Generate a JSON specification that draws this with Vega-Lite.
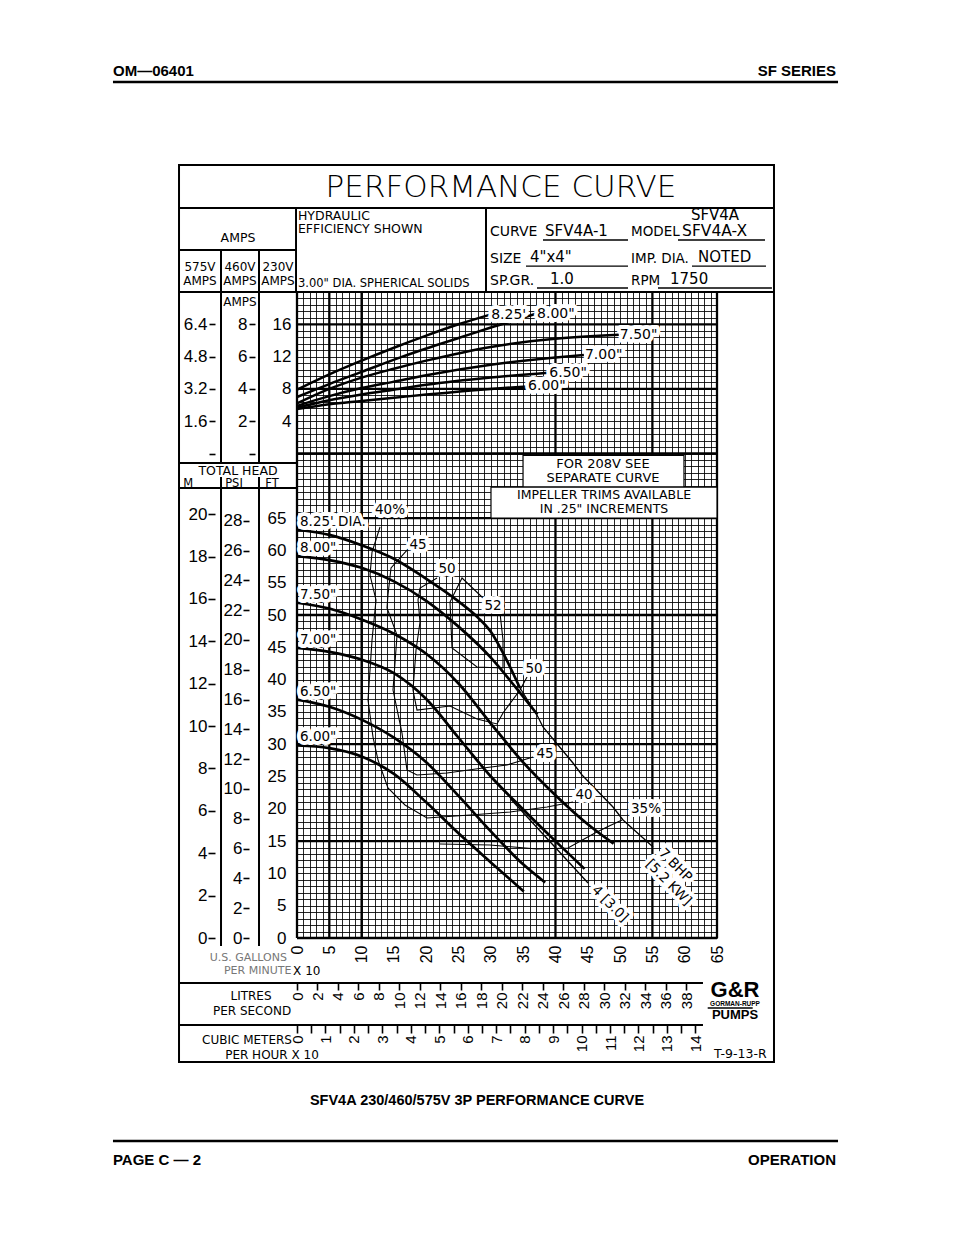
{
"$schema": "https://vega.github.io/schema/vega-lite/v6.json",
"width": 420, "height": 646,
"autosize": {"type": "none"},
"padding": {"left": 297, "top": 292, "right": 237, "bottom": 297},
"background": "#ffffff",
"data": {"values": [{}]},
"config": {
  "view": {"stroke": null},
  "text": {"font": "DejaVu Sans", "color": "#000"},
  "rule": {"color": "#000"},
  "line": {"color": "#000"},
  "axis": {"labelFont": "Liberation Sans", "labelColor": "#000", "tickColor": "#000", "labelFontSize": 17}
},
"datasets": {
  "hx": [{"g":0},{"g":5},{"g":10},{"g":40},{"g":55},{"g":65}],
  "hy": [{"u":0},{"u":15},{"u":30},{"u":50},{"u":65},{"u":75},{"u":85},{"u":95}],
  "head": [
    {"dia":"8.25","lab":"8.25' DIA.","g":0,"ft":63.2},{"dia":"8.25","lab":"8.25' DIA.","g":5,"ft":62.4},{"dia":"8.25","lab":"8.25' DIA.","g":10,"ft":60.8},{"dia":"8.25","lab":"8.25' DIA.","g":15,"ft":58.7},{"dia":"8.25","lab":"8.25' DIA.","g":20,"ft":55.6},{"dia":"8.25","lab":"8.25' DIA.","g":25,"ft":52.1},{"dia":"8.25","lab":"8.25' DIA.","g":28,"ft":49.6},{"dia":"8.25","lab":"8.25' DIA.","g":30,"ft":47.4},{"dia":"8.25","lab":"8.25' DIA.","g":32,"ft":43.9},{"dia":"8.25","lab":"8.25' DIA.","g":34.5,"ft":38.7},
    {"dia":"8.00","lab":"8.00\"","g":0,"ft":59.1},{"dia":"8.00","lab":"8.00\"","g":5,"ft":58.5},{"dia":"8.00","lab":"8.00\"","g":10,"ft":57.3},{"dia":"8.00","lab":"8.00\"","g":15,"ft":55.2},{"dia":"8.00","lab":"8.00\"","g":20,"ft":52.2},{"dia":"8.00","lab":"8.00\"","g":25,"ft":48.2},{"dia":"8.00","lab":"8.00\"","g":30,"ft":43.4},{"dia":"8.00","lab":"8.00\"","g":34,"ft":38.6},{"dia":"8.00","lab":"8.00\"","g":37.2,"ft":34.6},
    {"dia":"7.50","lab":"7.50\"","g":0,"ft":51.9},{"dia":"7.50","lab":"7.50\"","g":5,"ft":51.0},{"dia":"7.50","lab":"7.50\"","g":10,"ft":49.3},{"dia":"7.50","lab":"7.50\"","g":15,"ft":47.1},{"dia":"7.50","lab":"7.50\"","g":20,"ft":44.0},{"dia":"7.50","lab":"7.50\"","g":25,"ft":39.4},{"dia":"7.50","lab":"7.50\"","g":30,"ft":33.2},{"dia":"7.50","lab":"7.50\"","g":35,"ft":27.2},{"dia":"7.50","lab":"7.50\"","g":40,"ft":22.1},{"dia":"7.50","lab":"7.50\"","g":45,"ft":17.6},{"dia":"7.50","lab":"7.50\"","g":49,"ft":14.6},
    {"dia":"7.00","lab":"7.00\"","g":0,"ft":44.9},{"dia":"7.00","lab":"7.00\"","g":5,"ft":44.3},{"dia":"7.00","lab":"7.00\"","g":10,"ft":43.1},{"dia":"7.00","lab":"7.00\"","g":15,"ft":41.0},{"dia":"7.00","lab":"7.00\"","g":20,"ft":37.0},{"dia":"7.00","lab":"7.00\"","g":25,"ft":31.0},{"dia":"7.00","lab":"7.00\"","g":30,"ft":25.0},{"dia":"7.00","lab":"7.00\"","g":35,"ft":19.9},{"dia":"7.00","lab":"7.00\"","g":40,"ft":15.0},{"dia":"7.00","lab":"7.00\"","g":44.5,"ft":10.7},
    {"dia":"6.50","lab":"6.50\"","g":0,"ft":36.9},{"dia":"6.50","lab":"6.50\"","g":5,"ft":35.8},{"dia":"6.50","lab":"6.50\"","g":10,"ft":33.8},{"dia":"6.50","lab":"6.50\"","g":15,"ft":31.0},{"dia":"6.50","lab":"6.50\"","g":20,"ft":27.2},{"dia":"6.50","lab":"6.50\"","g":25,"ft":22.0},{"dia":"6.50","lab":"6.50\"","g":30,"ft":16.5},{"dia":"6.50","lab":"6.50\"","g":35,"ft":11.4},{"dia":"6.50","lab":"6.50\"","g":38.4,"ft":8.6},
    {"dia":"6.00","lab":"6.00\"","g":0,"ft":29.8},{"dia":"6.00","lab":"6.00\"","g":5,"ft":29.4},{"dia":"6.00","lab":"6.00\"","g":10,"ft":28.1},{"dia":"6.00","lab":"6.00\"","g":15,"ft":25.4},{"dia":"6.00","lab":"6.00\"","g":20,"ft":21.0},{"dia":"6.00","lab":"6.00\"","g":25,"ft":16.2},{"dia":"6.00","lab":"6.00\"","g":30,"ft":11.7},{"dia":"6.00","lab":"6.00\"","g":35.1,"ft":7.2}
  ],
  "amps": [
    {"dia":"8.25","lab":"8.25'","g":0,"a":7.9},{"dia":"8.25","lab":"8.25'","g":5,"a":9.8},{"dia":"8.25","lab":"8.25'","g":10,"a":11.5},{"dia":"8.25","lab":"8.25'","g":15,"a":13.1},{"dia":"8.25","lab":"8.25'","g":20,"a":14.6},{"dia":"8.25","lab":"8.25'","g":25,"a":16.0},{"dia":"8.25","lab":"8.25'","g":29.9,"a":17.2},
    {"dia":"8.00","lab":"8.00\"","g":0,"a":7.0},{"dia":"8.00","lab":"8.00\"","g":5,"a":8.6},{"dia":"8.00","lab":"8.00\"","g":10,"a":10.1},{"dia":"8.00","lab":"8.00\"","g":16,"a":11.9},{"dia":"8.00","lab":"8.00\"","g":20,"a":13.0},{"dia":"8.00","lab":"8.00\"","g":25,"a":14.3},{"dia":"8.00","lab":"8.00\"","g":30,"a":15.6},{"dia":"8.00","lab":"8.00\"","g":37,"a":17.3},
    {"dia":"7.50","lab":"7.50\"","g":0,"a":6.2},{"dia":"7.50","lab":"7.50\"","g":5,"a":8.0},{"dia":"7.50","lab":"7.50\"","g":10,"a":9.4},{"dia":"7.50","lab":"7.50\"","g":15,"a":10.5},{"dia":"7.50","lab":"7.50\"","g":20,"a":11.5},{"dia":"7.50","lab":"7.50\"","g":30,"a":13.2},{"dia":"7.50","lab":"7.50\"","g":40,"a":14.2},{"dia":"7.50","lab":"7.50\"","g":49.8,"a":14.7},
    {"dia":"7.00","lab":"7.00\"","g":0,"a":5.9},{"dia":"7.00","lab":"7.00\"","g":5,"a":7.1},{"dia":"7.00","lab":"7.00\"","g":10,"a":8.1},{"dia":"7.00","lab":"7.00\"","g":15,"a":8.9},{"dia":"7.00","lab":"7.00\"","g":20,"a":9.7},{"dia":"7.00","lab":"7.00\"","g":30,"a":11.0},{"dia":"7.00","lab":"7.00\"","g":40,"a":11.9},{"dia":"7.00","lab":"7.00\"","g":44.4,"a":12.2},
    {"dia":"6.50","lab":"6.50\"","g":0,"a":5.7},{"dia":"6.50","lab":"6.50\"","g":5,"a":6.6},{"dia":"6.50","lab":"6.50\"","g":10,"a":7.3},{"dia":"6.50","lab":"6.50\"","g":15,"a":7.9},{"dia":"6.50","lab":"6.50\"","g":20,"a":8.5},{"dia":"6.50","lab":"6.50\"","g":30,"a":9.4},{"dia":"6.50","lab":"6.50\"","g":38.9,"a":10.0},
    {"dia":"6.00","lab":"6.00\"","g":0,"a":5.5},{"dia":"6.00","lab":"6.00\"","g":5,"a":6.1},{"dia":"6.00","lab":"6.00\"","g":10,"a":6.5},{"dia":"6.00","lab":"6.00\"","g":15,"a":6.9},{"dia":"6.00","lab":"6.00\"","g":20,"a":7.3},{"dia":"6.00","lab":"6.00\"","g":30,"a":8.0},{"dia":"6.00","lab":"6.00\"","g":35.6,"a":8.3}
  ],
  "eff": [
    {"c":"40","i":0,"g":12.85,"ft":63.62},{"c":"40","i":1,"g":11.61,"ft":59.75},{"c":"40","i":2,"g":11.30,"ft":56.19},{"c":"40","i":3,"g":12.23,"ft":52.32},{"c":"40","i":4,"g":11.61,"ft":46.13},{"c":"40","i":5,"g":10.99,"ft":36.84},{"c":"40","i":6,"g":11.76,"ft":31.11},{"c":"40","i":7,"g":12.54,"ft":27.55},{"c":"40","i":8,"g":14.08,"ft":23.22},{"c":"40","i":9,"g":16.71,"ft":20.59},{"c":"40","i":10,"g":20.12,"ft":18.58},{"c":"40","i":11,"g":26.78,"ft":19.04},{"c":"40","i":12,"g":32.96,"ft":19.50},{"c":"40","i":13,"g":38.69,"ft":20.28},{"c":"40","i":14,"g":42.71,"ft":21.05},
    {"c":"45","i":0,"g":17.49,"ft":60.53},{"c":"45","i":1,"g":14.55,"ft":57.28},{"c":"45","i":2,"g":14.08,"ft":53.10},{"c":"45","i":3,"g":13.93,"ft":51.08},{"c":"45","i":4,"g":15.48,"ft":46.90},{"c":"45","i":5,"g":14.86,"ft":38.39},{"c":"45","i":6,"g":16.25,"ft":31.73},{"c":"45","i":7,"g":17.02,"ft":26.01},{"c":"45","i":8,"g":18.57,"ft":25.23},{"c":"45","i":9,"g":23.21,"ft":25.54},{"c":"45","i":10,"g":28.79,"ft":26.32},{"c":"45","i":11,"g":32.50,"ft":26.78},{"c":"45","i":12,"g":36.52,"ft":28.02},
    {"c":"50","i":0,"g":21.67,"ft":55.73},{"c":"50","i":1,"g":19.04,"ft":54.18},{"c":"50","i":2,"g":18.73,"ft":52.32},{"c":"50","i":3,"g":19.04,"ft":48.92},{"c":"50","i":4,"g":18.42,"ft":44.58},{"c":"50","i":5,"g":17.95,"ft":38.39},{"c":"50","i":6,"g":18.57,"ft":35.29},{"c":"50","i":7,"g":23.68,"ft":35.91},{"c":"50","i":8,"g":27.86,"ft":33.90},{"c":"50","i":9,"g":30.95,"ft":33.13},{"c":"50","i":10,"g":31.88,"ft":34.83},{"c":"50","i":11,"g":34.51,"ft":38.39},{"c":"50","i":12,"g":35.60,"ft":40.40},
    {"c":"52","i":0,"g":28.79,"ft":52.63},{"c":"52","i":1,"g":25.54,"ft":55.73},{"c":"52","i":2,"g":24.76,"ft":54.18},{"c":"52","i":3,"g":23.68,"ft":52.01},{"c":"52","i":4,"g":23.99,"ft":44.89},{"c":"52","i":5,"g":27.86,"ft":41.95},{"c":"52","i":6,"g":31.88,"ft":41.80},{"c":"52","i":7,"g":31.88,"ft":46.13},{"c":"52","i":8,"g":31.42,"ft":50.31},
    {"c":"35","i":0,"g":22.13,"ft":14.55},{"c":"35","i":1,"g":29.87,"ft":14.40},{"c":"35","i":2,"g":37.14,"ft":13.78},{"c":"35","i":3,"g":41.94,"ft":13.93},{"c":"35","i":4,"g":46.12,"ft":16.25},{"c":"35","i":5,"g":47.98,"ft":17.18},{"c":"35","i":6,"g":50.30,"ft":18.27}
  ],
  "bhp": [
    {"c":"7","i":0,"g":34.51,"ft":38.70},{"c":"7","i":1,"g":37.14,"ft":34.52},{"c":"7","i":2,"g":38.07,"ft":32.66},{"c":"7","i":3,"g":42.71,"ft":27.09},{"c":"7","i":4,"g":44.11,"ft":25.23},{"c":"7","i":5,"g":48.90,"ft":20.28},{"c":"7","i":6,"g":50.46,"ft":18.27},{"c":"7","i":7,"g":55.11,"ft":14.09},
    {"c":"4","i":0,"g":33.0,"ft":21.6},{"c":"4","i":1,"g":45.04,"ft":8.51}
  ],
  "effLab": [
    {"t":"40%","g":14.39,"ft":66.25},{"t":"45","g":18.73,"ft":60.84},{"t":"50","g":23.21,"ft":57.12},{"t":"52","g":30.33,"ft":51.39},
    {"t":"50","g":36.68,"ft":41.64},{"t":"45","g":38.38,"ft":28.48},{"t":"40","g":44.42,"ft":22.14},{"t":"35%","g":54.01,"ft":19.97}
  ],
  "bhpLab": [
    {"t":"7 BHP","g":56.33,"ft":13.47},{"t":"[5.2 KW]","g":54.32,"ft":11.76},{"t":"4 [3.0]","g":45.96,"ft":7.74}
  ]
},
"resolve": {"scale": {"x": "independent", "y": "independent"}, "axis": {"x": "independent", "y": "independent"}},
"layer": [
  {
    "resolve": {"axis": {"x": "independent", "y": "independent"}},
    "layer": [
      {"mark": {"type": "rect", "filled": false, "color": "#000", "strokeWidth": 2}, "encoding": {"x": {"datum": -18.26, "axis": null}, "x2": {"datum": 73.82}, "y": {"datum": 119.66, "axis": null}, "y2": {"datum": -19.2}}},
      {"mark": {"type": "rule", "strokeWidth": 2}, "encoding": {"x": {"datum": -18.26, "axis": null}, "x2": {"datum": 73.82}, "y": {"datum": 113.0, "axis": null}}},
      {"mark": {"type": "rule", "strokeWidth": 2.2}, "encoding": {"x": {"datum": -18.26, "axis": null}, "x2": {"datum": 73.82}, "y": {"datum": 100.0, "axis": null}}},
      {"mark": {"type": "rule", "strokeWidth": 2}, "encoding": {"x": {"datum": -18.26, "axis": null}, "x2": {"datum": -0.15}, "y": {"datum": 106.5, "axis": null}}},
      {"mark": {"type": "rule", "strokeWidth": 2}, "encoding": {"x": {"datum": -18.26, "axis": null}, "x2": {"datum": 0}, "y": {"datum": 73.53, "axis": null}}},
      {"mark": {"type": "rule", "strokeWidth": 2}, "encoding": {"x": {"datum": -18.26, "axis": null}, "x2": {"datum": 0}, "y": {"datum": 69.66, "axis": null}}},
      {"mark": {"type": "rule", "strokeWidth": 2}, "encoding": {"x": {"datum": -18.26, "axis": null}, "x2": {"datum": 62.83}, "y": {"datum": -6.97, "axis": null}}},
      {"mark": {"type": "rule", "strokeWidth": 2}, "encoding": {"x": {"datum": -18.26, "axis": null}, "x2": {"datum": 62.83}, "y": {"datum": -13.47, "axis": null}}},
      {"mark": {"type": "rule", "strokeWidth": 2}, "encoding": {"x": {"datum": -0.15, "axis": null}, "y": {"datum": 113.0, "axis": null}, "y2": {"datum": 100.0}}},
      {"mark": {"type": "rule", "strokeWidth": 2}, "encoding": {"x": {"datum": 29.25, "axis": null}, "y": {"datum": 113.0, "axis": null}, "y2": {"datum": 100.0}}},
      {"mark": {"type": "rule", "strokeWidth": 2}, "encoding": {"x": {"datum": -11.76, "axis": null}, "y": {"datum": 106.5, "axis": null}, "y2": {"datum": 73.53}}},
      {"mark": {"type": "rule", "strokeWidth": 2}, "encoding": {"x": {"datum": -5.88, "axis": null}, "y": {"datum": 106.5, "axis": null}, "y2": {"datum": 73.53}}},
      {"mark": {"type": "rule", "strokeWidth": 2}, "encoding": {"x": {"datum": -11.76, "axis": null}, "y": {"datum": 71.36, "axis": null}, "y2": {"datum": -1.24}}},
      {"mark": {"type": "rule", "strokeWidth": 2}, "encoding": {"x": {"datum": -5.88, "axis": null}, "y": {"datum": 71.36, "axis": null}, "y2": {"datum": -1.24}}},
      {"mark": {"type": "rule", "strokeWidth": 1.3}, "encoding": {"x": {"datum": 38.07, "axis": null}, "x2": {"datum": 51.23}, "y": {"datum": 108.05, "axis": null}}},
      {"mark": {"type": "rule", "strokeWidth": 1.3}, "encoding": {"x": {"datum": 58.96, "axis": null}, "x2": {"datum": 72.43}, "y": {"datum": 108.05, "axis": null}}},
      {"mark": {"type": "rule", "strokeWidth": 1.3}, "encoding": {"x": {"datum": 35.44, "axis": null}, "x2": {"datum": 51.23}, "y": {"datum": 104.02, "axis": null}}},
      {"mark": {"type": "rule", "strokeWidth": 1.3}, "encoding": {"x": {"datum": 61.13, "axis": null}, "x2": {"datum": 72.58}, "y": {"datum": 104.02, "axis": null}}},
      {"mark": {"type": "rule", "strokeWidth": 1.3}, "encoding": {"x": {"datum": 37.14, "axis": null}, "x2": {"datum": 51.23}, "y": {"datum": 100.62, "axis": null}}},
      {"mark": {"type": "rule", "strokeWidth": 1.3}, "encoding": {"x": {"datum": 55.87, "axis": null}, "x2": {"datum": 73.5}, "y": {"datum": 100.62, "axis": null}}},
      {"mark": {"type": "rule", "strokeWidth": 2.5}, "encoding": {"x": {"datum": -28.48, "axis": null}, "x2": {"datum": 83.73}, "y": {"datum": 132.51, "axis": null}}},
      {"mark": {"type": "rule", "strokeWidth": 2.5}, "encoding": {"x": {"datum": -28.48, "axis": null}, "x2": {"datum": 83.73}, "y": {"datum": -31.42, "axis": null}}},
      {"mark": {"type": "rule", "strokeWidth": 1.5}, "encoding": {"x": {"datum": 63.56, "axis": null}, "x2": {"datum": 70.52}, "y": {"datum": -10.84, "axis": null}}},
      {"data": {"name": "hx"}, "mark": {"type": "rule", "strokeWidth": 2.3}, "encoding": {"x": {"field": "g", "type": "quantitative", "axis": null}, "y": {"datum": 0, "axis": null}, "y2": {"datum": 100}}},
      {"data": {"name": "hy"}, "mark": {"type": "rule", "strokeWidth": 2.3}, "encoding": {"y": {"field": "u", "type": "quantitative", "axis": null}, "x": {"datum": 0, "axis": null}, "x2": {"datum": 65}}},
      {"mark": {"type": "rect", "fill": "#fff", "stroke": "#000", "strokeWidth": 1.2}, "encoding": {"x": {"datum": 34.98, "axis": null}, "x2": {"datum": 59.89}, "y": {"datum": 74.7, "axis": null}, "y2": {"datum": 69.8}}},
      {"mark": {"type": "rect", "fill": "#fff", "stroke": "#000", "strokeWidth": 1.2}, "encoding": {"x": {"datum": 30.02, "axis": null}, "x2": {"datum": 65}, "y": {"datum": 69.8, "axis": null}, "y2": {"datum": 65.0}}},
      {"mark": {"type": "text", "align": "center", "baseline": "middle", "fontSize": 13}, "encoding": {"x": {"datum": 47.36, "axis": null}, "y": {"datum": 73.37, "axis": null}, "text": {"value": "FOR  208V  SEE"}}},
      {"mark": {"type": "text", "align": "center", "baseline": "middle", "fontSize": 13}, "encoding": {"x": {"datum": 47.36, "axis": null}, "y": {"datum": 71.2, "axis": null}, "text": {"value": "SEPARATE  CURVE"}}},
      {"mark": {"type": "text", "align": "center", "baseline": "middle", "fontSize": 12.5}, "encoding": {"x": {"datum": 47.51, "axis": null}, "y": {"datum": 68.58, "axis": null}, "text": {"value": "IMPELLER  TRIMS  AVAILABLE"}}},
      {"mark": {"type": "text", "align": "center", "baseline": "middle", "fontSize": 12.5}, "encoding": {"x": {"datum": 47.51, "axis": null}, "y": {"datum": 66.41, "axis": null}, "text": {"value": "IN  .25\"  INCREMENTS"}}},
      {"data": {"name": "eff"}, "mark": {"type": "line", "strokeWidth": 1.1}, "encoding": {"x": {"field": "g", "type": "quantitative", "axis": null}, "y": {"field": "ft", "type": "quantitative", "axis": null}, "detail": {"field": "c"}, "order": {"field": "i"}}},
      {"data": {"name": "bhp"}, "mark": {"type": "line", "strokeWidth": 1.3}, "encoding": {"x": {"field": "g", "type": "quantitative", "axis": null}, "y": {"field": "ft", "type": "quantitative", "axis": null}, "detail": {"field": "c"}, "order": {"field": "i"}}},
      {"data": {"name": "head"}, "mark": {"type": "line", "strokeWidth": 2.7, "interpolate": "monotone"},
       "encoding": {
         "x": {"field": "g", "type": "quantitative", "scale": {"domain": [0, 65], "nice": false, "zero": false},
               "axis": {"orient": "bottom", "values": [0,1,2,3,4,5,6,7,8,9,10,11,12,13,14,15,16,17,18,19,20,21,22,23,24,25,26,27,28,29,30,31,32,33,34,35,36,37,38,39,40,41,42,43,44,45,46,47,48,49,50,51,52,53,54,55,56,57,58,59,60,61,62,63,64,65],
                        "grid": true, "gridColor": "#000", "gridWidth": 0.85, "gridOpacity": 1, "ticks": false, "domain": false,
                        "labelExpr": "datum.value % 5 === 0 ? datum.label : ''", "labelAngle": -90, "labelPadding": 7, "labelFontSize": 16,
                        "labelOverlap": false, "labelBound": false, "labelFlush": false, "title": null}},
         "y": {"field": "ft", "type": "quantitative", "scale": {"domain": [0, 100], "nice": false, "zero": false},
               "axis": {"orient": "left", "values": [0,1,2,3,4,5,6,7,8,9,10,11,12,13,14,15,16,17,18,19,20,21,22,23,24,25,26,27,28,29,30,31,32,33,34,35,36,37,38,39,40,41,42,43,44,45,46,47,48,49,50,51,52,53,54,55,56,57,58,59,60,61,62,63,64,65,66,67,68,69,70,71,72,73,74,75,76,77,78,79,80,81,82,83,84,85,86,87,88,89,90,91,92,93,94,95,96,97,98,99,100],
                        "grid": true, "gridColor": "#000", "gridWidth": 0.85, "gridOpacity": 1, "ticks": false, "domain": false,
                        "labelExpr": "datum.value % 5 === 0 && datum.value <= 65 ? datum.label : ''", "labelPadding": 11, "labelFontSize": 17,
                        "labelOverlap": false, "labelBound": false, "labelFlush": false, "title": null}},
         "detail": {"field": "dia"}
       }},
      {"data": {"name": "head"}, "transform": [{"filter": "datum.g === 0"}], "mark": {"type": "text", "align": "left", "baseline": "bottom", "dx": 3, "dy": -1, "fontSize": 13.5, "stroke": "#fff", "strokeWidth": 8, "strokeJoin": "round"}, "encoding": {"x": {"field": "g", "type": "quantitative", "axis": null}, "y": {"field": "ft", "type": "quantitative", "axis": null}, "text": {"field": "lab"}}},
      {"data": {"name": "head"}, "transform": [{"filter": "datum.g === 0"}], "mark": {"type": "text", "align": "left", "baseline": "bottom", "dx": 3, "dy": -1, "fontSize": 13.5}, "encoding": {"x": {"field": "g", "type": "quantitative", "axis": null}, "y": {"field": "ft", "type": "quantitative", "axis": null}, "text": {"field": "lab"}}},
      {"data": {"name": "effLab"}, "mark": {"type": "text", "align": "center", "baseline": "middle", "fontSize": 13.5, "stroke": "#fff", "strokeWidth": 8, "strokeJoin": "round"}, "encoding": {"x": {"field": "g", "type": "quantitative", "axis": null}, "y": {"field": "ft", "type": "quantitative", "axis": null}, "text": {"field": "t"}}},
      {"data": {"name": "effLab"}, "mark": {"type": "text", "align": "center", "baseline": "middle", "fontSize": 13.5}, "encoding": {"x": {"field": "g", "type": "quantitative", "axis": null}, "y": {"field": "ft", "type": "quantitative", "axis": null}, "text": {"field": "t"}}},
      {"data": {"name": "bhpLab"}, "mark": {"type": "text", "align": "left", "baseline": "middle", "angle": 45, "fontSize": 13.5, "stroke": "#fff", "strokeWidth": 8, "strokeJoin": "round"}, "encoding": {"x": {"field": "g", "type": "quantitative", "axis": null}, "y": {"field": "ft", "type": "quantitative", "axis": null}, "text": {"field": "t"}}},
      {"data": {"name": "bhpLab"}, "mark": {"type": "text", "align": "left", "baseline": "middle", "angle": 45, "fontSize": 13.5}, "encoding": {"x": {"field": "g", "type": "quantitative", "axis": null}, "y": {"field": "ft", "type": "quantitative", "axis": null}, "text": {"field": "t"}}},
      {"mark": {"type": "text", "align": "center", "baseline": "middle", "fontSize": 31, "fontWeight": 200}, "encoding": {"x": {"datum": 31.57, "axis": null}, "y": {"datum": 116.1, "axis": null}, "text": {"value": "PERFORMANCE  CURVE"}}},
      {"mark": {"type": "text", "align": "left", "baseline": "middle", "fontSize": 12.5}, "encoding": {"x": {"datum": 0.15, "axis": null}, "y": {"datum": 111.76, "axis": null}, "text": {"value": "HYDRAULIC"}}},
      {"mark": {"type": "text", "align": "left", "baseline": "middle", "fontSize": 12.5}, "encoding": {"x": {"datum": 0.15, "axis": null}, "y": {"datum": 109.75, "axis": null}, "text": {"value": "EFFICIENCY  SHOWN"}}},
      {"mark": {"type": "text", "align": "left", "baseline": "middle", "fontSize": 11.5}, "encoding": {"x": {"datum": 0.15, "axis": null}, "y": {"datum": 101.24, "axis": null}, "text": {"value": "3.00\" DIA. SPHERICAL  SOLIDS"}}},
      {"mark": {"type": "text", "align": "center", "baseline": "middle", "fontSize": 12.5}, "encoding": {"x": {"datum": -9.13, "axis": null}, "y": {"datum": 108.36, "axis": null}, "text": {"value": "AMPS"}}},
      {"mark": {"type": "text", "align": "center", "baseline": "middle", "fontSize": 12}, "encoding": {"x": {"datum": -15.01, "axis": null}, "y": {"datum": 103.87, "axis": null}, "text": {"value": "575V"}}},
      {"mark": {"type": "text", "align": "center", "baseline": "middle", "fontSize": 12}, "encoding": {"x": {"datum": -15.01, "axis": null}, "y": {"datum": 101.7, "axis": null}, "text": {"value": "AMPS"}}},
      {"mark": {"type": "text", "align": "center", "baseline": "middle", "fontSize": 12}, "encoding": {"x": {"datum": -8.82, "axis": null}, "y": {"datum": 103.87, "axis": null}, "text": {"value": "460V"}}},
      {"mark": {"type": "text", "align": "center", "baseline": "middle", "fontSize": 12}, "encoding": {"x": {"datum": -8.82, "axis": null}, "y": {"datum": 101.7, "axis": null}, "text": {"value": "AMPS"}}},
      {"mark": {"type": "text", "align": "center", "baseline": "middle", "fontSize": 12}, "encoding": {"x": {"datum": -2.94, "axis": null}, "y": {"datum": 103.87, "axis": null}, "text": {"value": "230V"}}},
      {"mark": {"type": "text", "align": "center", "baseline": "middle", "fontSize": 12}, "encoding": {"x": {"datum": -2.94, "axis": null}, "y": {"datum": 101.7, "axis": null}, "text": {"value": "AMPS"}}},
      {"mark": {"type": "text", "align": "center", "baseline": "middle", "fontSize": 12}, "encoding": {"x": {"datum": -8.82, "axis": null}, "y": {"datum": 98.45, "axis": null}, "text": {"value": "AMPS"}}},
      {"mark": {"type": "text", "align": "center", "baseline": "middle", "fontSize": 15}, "encoding": {"x": {"datum": 64.69, "axis": null}, "y": {"datum": 111.92, "axis": null}, "text": {"value": "SFV4A"}}},
      {"mark": {"type": "text", "align": "left", "baseline": "middle", "fontSize": 14}, "encoding": {"x": {"datum": 29.87, "axis": null}, "y": {"datum": 109.29, "axis": null}, "text": {"value": "CURVE"}}},
      {"mark": {"type": "text", "align": "left", "baseline": "middle", "fontSize": 15}, "encoding": {"x": {"datum": 38.38, "axis": null}, "y": {"datum": 109.44, "axis": null}, "text": {"value": "SFV4A-1"}}},
      {"mark": {"type": "text", "align": "left", "baseline": "middle", "fontSize": 13.5}, "encoding": {"x": {"datum": 51.69, "axis": null}, "y": {"datum": 109.29, "axis": null}, "text": {"value": "MODEL"}}},
      {"mark": {"type": "text", "align": "left", "baseline": "middle", "fontSize": 15.5}, "encoding": {"x": {"datum": 59.6, "axis": null}, "y": {"datum": 109.44, "axis": null}, "text": {"value": "SFV4A-X"}}},
      {"mark": {"type": "text", "align": "left", "baseline": "middle", "fontSize": 14}, "encoding": {"x": {"datum": 29.87, "axis": null}, "y": {"datum": 105.11, "axis": null}, "text": {"value": "SIZE"}}},
      {"mark": {"type": "text", "align": "left", "baseline": "middle", "fontSize": 15}, "encoding": {"x": {"datum": 36.06, "axis": null}, "y": {"datum": 105.42, "axis": null}, "text": {"value": "4\"x4\""}}},
      {"mark": {"type": "text", "align": "left", "baseline": "middle", "fontSize": 13.5}, "encoding": {"x": {"datum": 51.69, "axis": null}, "y": {"datum": 105.11, "axis": null}, "text": {"value": "IMP. DIA."}}},
      {"mark": {"type": "text", "align": "left", "baseline": "middle", "fontSize": 15}, "encoding": {"x": {"datum": 62.06, "axis": null}, "y": {"datum": 105.42, "axis": null}, "text": {"value": "NOTED"}}},
      {"mark": {"type": "text", "align": "left", "baseline": "middle", "fontSize": 14}, "encoding": {"x": {"datum": 29.87, "axis": null}, "y": {"datum": 101.7, "axis": null}, "text": {"value": "SP.GR."}}},
      {"mark": {"type": "text", "align": "left", "baseline": "middle", "fontSize": 15}, "encoding": {"x": {"datum": 39.15, "axis": null}, "y": {"datum": 102.01, "axis": null}, "text": {"value": "1.0"}}},
      {"mark": {"type": "text", "align": "left", "baseline": "middle", "fontSize": 13.5}, "encoding": {"x": {"datum": 51.69, "axis": null}, "y": {"datum": 101.7, "axis": null}, "text": {"value": "RPM"}}},
      {"mark": {"type": "text", "align": "left", "baseline": "middle", "fontSize": 15}, "encoding": {"x": {"datum": 57.73, "axis": null}, "y": {"datum": 102.01, "axis": null}, "text": {"value": "1750"}}},
      {"mark": {"type": "text", "align": "center", "baseline": "middle", "fontSize": 12.5}, "encoding": {"x": {"datum": -9.13, "axis": null}, "y": {"datum": 72.29, "axis": null}, "text": {"value": "TOTAL  HEAD"}}},
      {"mark": {"type": "text", "align": "left", "baseline": "middle", "fontSize": 11.5}, "encoding": {"x": {"datum": -17.6, "axis": null}, "y": {"datum": 70.28, "axis": null}, "text": {"value": "M"}}},
      {"mark": {"type": "text", "align": "center", "baseline": "middle", "fontSize": 11.5}, "encoding": {"x": {"datum": -9.75, "axis": null}, "y": {"datum": 70.28, "axis": null}, "text": {"value": "PSI"}}},
      {"mark": {"type": "text", "align": "center", "baseline": "middle", "fontSize": 11.5}, "encoding": {"x": {"datum": -3.87, "axis": null}, "y": {"datum": 70.28, "axis": null}, "text": {"value": "FT"}}},
      {"mark": {"type": "text", "align": "right", "baseline": "middle", "fontSize": 11, "color": "#777"}, "encoding": {"x": {"datum": -1.55, "axis": null}, "y": {"datum": -3.1, "axis": null}, "text": {"value": "U.S. GALLONS"}}},
      {"mark": {"type": "text", "align": "left", "baseline": "middle", "fontSize": 11, "color": "#777"}, "encoding": {"x": {"datum": -11.3, "axis": null}, "y": {"datum": -5.11, "axis": null}, "text": {"value": "PER MINUTE"}}},
      {"mark": {"type": "text", "align": "left", "baseline": "middle", "fontSize": 12}, "encoding": {"x": {"datum": -0.6, "axis": null}, "y": {"datum": -5.11, "axis": null}, "text": {"value": "X 10"}}},
      {"mark": {"type": "text", "align": "center", "baseline": "middle", "fontSize": 12}, "encoding": {"x": {"datum": -7.12, "axis": null}, "y": {"datum": -8.98, "axis": null}, "text": {"value": "LITRES"}}},
      {"mark": {"type": "text", "align": "center", "baseline": "middle", "fontSize": 12}, "encoding": {"x": {"datum": -6.96, "axis": null}, "y": {"datum": -11.3, "axis": null}, "text": {"value": "PER  SECOND"}}},
      {"mark": {"type": "text", "align": "center", "baseline": "middle", "fontSize": 12}, "encoding": {"x": {"datum": -7.74, "axis": null}, "y": {"datum": -15.79, "axis": null}, "text": {"value": "CUBIC  METERS"}}},
      {"mark": {"type": "text", "align": "center", "baseline": "middle", "fontSize": 12}, "encoding": {"x": {"datum": -3.87, "axis": null}, "y": {"datum": -18.1, "axis": null}, "text": {"value": "PER  HOUR  X 10"}}},
      {"mark": {"type": "text", "align": "center", "baseline": "middle", "fontSize": 22, "fontWeight": "bold", "font": "Liberation Sans"}, "encoding": {"x": {"datum": 67.79, "axis": null}, "y": {"datum": -8.05, "axis": null}, "text": {"value": "G&R"}}},
      {"mark": {"type": "text", "align": "center", "baseline": "middle", "fontSize": 6.5, "fontWeight": "bold", "font": "Liberation Sans"}, "encoding": {"x": {"datum": 67.79, "axis": null}, "y": {"datum": -10.22, "axis": null}, "text": {"value": "GORMAN-RUPP"}}},
      {"mark": {"type": "text", "align": "center", "baseline": "middle", "fontSize": 13, "fontWeight": "bold", "font": "Liberation Sans"}, "encoding": {"x": {"datum": 67.79, "axis": null}, "y": {"datum": -11.92, "axis": null}, "text": {"value": "PUMPS"}}},
      {"mark": {"type": "text", "align": "left", "baseline": "middle", "fontSize": 12.5}, "encoding": {"x": {"datum": 64.54, "axis": null}, "y": {"datum": -17.96, "axis": null}, "text": {"value": "T-9-13-R"}}},
      {"mark": {"type": "text", "align": "left", "baseline": "middle", "fontSize": 15, "fontWeight": "bold", "font": "Liberation Sans"}, "encoding": {"x": {"datum": -28.48, "axis": null}, "y": {"datum": 134.21, "axis": null}, "text": {"value": "OM—06401"}}},
      {"mark": {"type": "text", "align": "right", "baseline": "middle", "fontSize": 15, "fontWeight": "bold", "font": "Liberation Sans"}, "encoding": {"x": {"datum": 83.42, "axis": null}, "y": {"datum": 134.21, "axis": null}, "text": {"value": "SF SERIES"}}},
      {"mark": {"type": "text", "align": "center", "baseline": "middle", "fontSize": 14.5, "fontWeight": "bold", "font": "Liberation Sans"}, "encoding": {"x": {"datum": 27.86, "axis": null}, "y": {"datum": -25.23, "axis": null}, "text": {"value": "SFV4A 230/460/575V 3P PERFORMANCE CURVE"}}},
      {"mark": {"type": "text", "align": "left", "baseline": "middle", "fontSize": 15, "fontWeight": "bold", "font": "Liberation Sans"}, "encoding": {"x": {"datum": -28.48, "axis": null}, "y": {"datum": -34.37, "axis": null}, "text": {"value": "PAGE C — 2"}}},
      {"mark": {"type": "text", "align": "right", "baseline": "middle", "fontSize": 15, "fontWeight": "bold", "font": "Liberation Sans"}, "encoding": {"x": {"datum": 83.42, "axis": null}, "y": {"datum": -34.37, "axis": null}, "text": {"value": "OPERATION"}}}
    ]
  },
  {
    "resolve": {"axis": {"x": "independent", "y": "independent"}},
    "layer": [
      {"data": {"name": "amps"}, "mark": {"type": "line", "strokeWidth": 2.5, "interpolate": "monotone"},
       "encoding": {
         "x": {"field": "g", "type": "quantitative", "scale": {"domain": [0, 65], "nice": false, "zero": false}, "axis": null},
         "y": {"field": "a", "type": "quantitative", "scale": {"domain": [-60, 20], "nice": false, "zero": false},
               "axis": {"orient": "left", "values": [4, 8, 12, 16], "ticks": false, "domain": false, "grid": false, "labelPadding": 6, "labelFontSize": 17, "labelOverlap": false, "labelBound": false, "title": null}},
         "detail": {"field": "dia"}
       }},
      {"data": {"name": "amps"}, "transform": [{"joinaggregate": [{"op": "max", "field": "g", "as": "gmax"}], "groupby": ["dia"]}, {"filter": "datum.g === datum.gmax"}],
       "mark": {"type": "text", "align": "left", "baseline": "middle", "dx": 1, "fontSize": 14, "stroke": "#fff", "strokeWidth": 8, "strokeJoin": "round"},
       "encoding": {"x": {"field": "g", "type": "quantitative", "axis": null}, "y": {"field": "a", "type": "quantitative", "axis": null}, "text": {"field": "lab"}}},
      {"data": {"name": "amps"}, "transform": [{"joinaggregate": [{"op": "max", "field": "g", "as": "gmax"}], "groupby": ["dia"]}, {"filter": "datum.g === datum.gmax"}],
       "mark": {"type": "text", "align": "left", "baseline": "middle", "dx": 1, "fontSize": 14},
       "encoding": {"x": {"field": "g", "type": "quantitative", "axis": null}, "y": {"field": "a", "type": "quantitative", "axis": null}, "text": {"field": "lab"}}}
    ]
  },
  {"mark": {"type": "point", "opacity": 0},
   "encoding": {
     "x": {"datum": 0, "type": "quantitative", "scale": {"domain": [0, 65], "nice": false}, "axis": null},
     "y": {"datum": 0, "type": "quantitative", "scale": {"domain": [-24, 8], "nice": false, "zero": false},
           "axis": {"orient": "left", "offset": 82, "values": [0, 1.6, 3.2, 4.8, 6.4], "labelExpr": "datum.value === 0 ? '' : format(datum.value, '.1f')", "tickSize": 6, "tickWidth": 1.6, "domain": false, "grid": false, "labelPadding": 2, "labelOverlap": false, "labelBound": false, "title": null}}}},
  {"mark": {"type": "point", "opacity": 0},
   "encoding": {
     "x": {"datum": 0, "type": "quantitative", "scale": {"domain": [0, 65], "nice": false}, "axis": null},
     "y": {"datum": 0, "type": "quantitative", "scale": {"domain": [-30, 10], "nice": false, "zero": false},
           "axis": {"orient": "left", "offset": 42, "values": [0, 2, 4, 6, 8], "labelExpr": "datum.value === 0 ? '' : datum.label", "tickSize": 6, "tickWidth": 1.6, "domain": false, "grid": false, "labelPadding": 2, "labelOverlap": false, "labelBound": false, "title": null}}}},
  {"mark": {"type": "point", "opacity": 0},
   "encoding": {
     "x": {"datum": 0, "type": "quantitative", "scale": {"domain": [0, 65], "nice": false}, "axis": null},
     "y": {"datum": 0, "type": "quantitative", "scale": {"domain": [0, 30.48], "nice": false, "zero": false},
           "axis": {"orient": "left", "offset": 82, "values": [0, 2, 4, 6, 8, 10, 12, 14, 16, 18, 20], "tickSize": 7, "tickWidth": 1.6, "domain": false, "grid": false, "labelPadding": 1, "labelOverlap": false, "labelBound": false, "title": null}}}},
  {"mark": {"type": "point", "opacity": 0},
   "encoding": {
     "x": {"datum": 0, "type": "quantitative", "scale": {"domain": [0, 65], "nice": false}, "axis": null},
     "y": {"datum": 0, "type": "quantitative", "scale": {"domain": [0, 43.35], "nice": false, "zero": false},
           "axis": {"orient": "left", "offset": 48, "values": [0, 2, 4, 6, 8, 10, 12, 14, 16, 18, 20, 22, 24, 26, 28], "tickSize": 6, "tickWidth": 1.6, "domain": false, "grid": false, "labelPadding": 1, "labelOverlap": false, "labelBound": false, "title": null}}}},
  {"mark": {"type": "point", "opacity": 0},
   "encoding": {
     "y": {"datum": 0, "type": "quantitative", "scale": {"domain": [0, 100], "nice": false}, "axis": null},
     "x": {"datum": 0, "type": "quantitative", "scale": {"domain": [0, 41.01], "nice": false, "zero": false},
           "axis": {"orient": "bottom", "offset": 45, "values": [0, 2, 4, 6, 8, 10, 12, 14, 16, 18, 20, 22, 24, 26, 28, 30, 32, 34, 36, 38], "tickSize": 7, "tickWidth": 1.6, "domain": false, "grid": false, "labelAngle": -90, "labelPadding": 2, "labelFontSize": 15, "labelOverlap": false, "labelBound": false, "labelFlush": false, "title": null}}}},
  {"mark": {"type": "point", "opacity": 0},
   "encoding": {
     "y": {"datum": 0, "type": "quantitative", "scale": {"domain": [0, 100], "nice": false}, "axis": null},
     "x": {"datum": 0, "type": "quantitative", "scale": {"domain": [0, 14.76], "nice": false, "zero": false},
           "axis": {"orient": "bottom", "offset": 87, "values": [0, 0.5, 1, 1.5, 2, 2.5, 3, 3.5, 4, 4.5, 5, 5.5, 6, 6.5, 7, 7.5, 8, 8.5, 9, 9.5, 10, 10.5, 11, 11.5, 12, 12.5, 13, 13.5, 14], "labelExpr": "datum.value % 1 === 0 ? format(datum.value, 'd') : ''", "tickSize": 8, "tickWidth": 1.6, "domain": false, "grid": false, "labelAngle": -90, "labelPadding": 2, "labelFontSize": 15, "labelOverlap": false, "labelBound": false, "labelFlush": false, "title": null}}}}
]
}
